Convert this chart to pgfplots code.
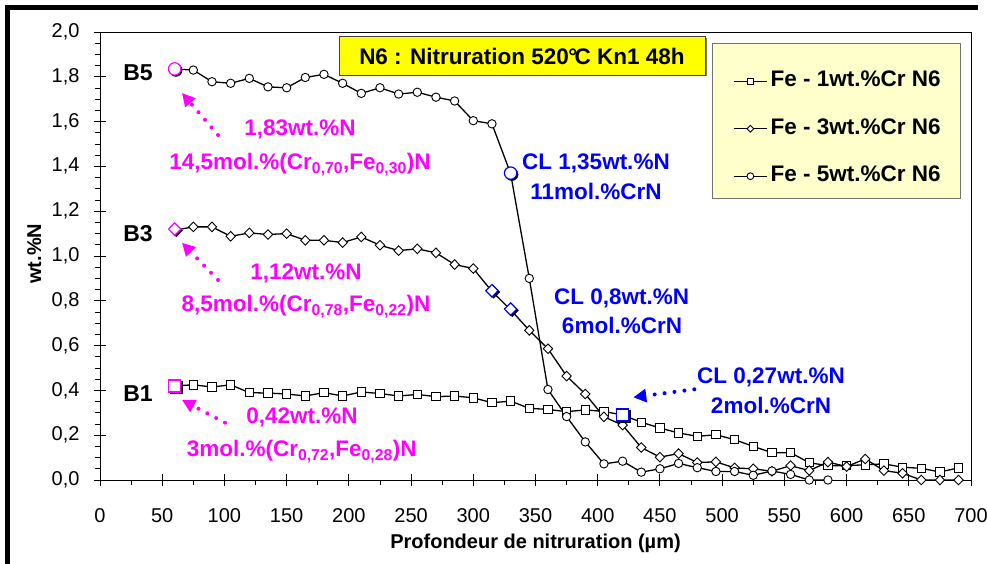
\documentclass[border=0pt]{standalone}
\usepackage{fontspec}
\setmainfont{Liberation Sans}
\usepackage{pgfplots}
\pgfplotsset{compat=1.18}
\usetikzlibrary{arrows.meta}
\definecolor{mag}{RGB}{255,0,255}
\definecolor{blu}{RGB}{0,0,255}
\definecolor{legfill}{RGB}{255,255,204}
\definecolor{ttlfill}{RGB}{255,255,0}
\newcommand{\bigb}{\fontsize{22.5}{27}\selectfont\bfseries}
\begin{document}
\begin{tikzpicture}[x=1pt,y=1pt]
\useasboundingbox (0,0) rectangle (987,564);
\fill[white] (0,0) rectangle (987,564);
\draw[line width=5pt, line join=miter] (7.5,0) -- (7.5,556.5) -- (978,556.5);
% boxes
\fill[black!55] (340.5,487.5) rectangle (707,525.8);
\draw[fill=ttlfill, draw=black!75, line width=0.8pt] (339,489) rectangle (705.5,527.3);
\node[anchor=base] at (522,499) {\bigb N6 : Nitruration 520\kern-0.02em°\kern-0.12em C Kn1 48h};
\draw[fill=legfill, draw=black!55, line width=1pt] (712.7,520) rectangle (960,365.7);
\begin{axis}[
  at={(100pt,84pt)}, anchor=south west,
  scale only axis, width=871pt, height=448pt,
  xmin=0, xmax=700, ymin=0, ymax=2,
  xtick={0,50,...,700},
  ytick={0,0.2,0.4,0.6,0.8,1,1.2,1.4,1.6,1.8,2},
  minor x tick num=1, minor y tick num=3,
  tick pos=left,
  tick align=outside, major tick length=6pt, minor tick length=5pt,
  extra x ticks={0,50,...,700}, extra x tick labels={},
  extra y ticks={0,0.2,0.4,0.6,0.8,1,1.2,1.4,1.6,1.8,2}, extra y tick labels={},
  extra tick style={tick align=inside, major tick length=6pt},
  tick style={black, line width=0.9pt},
  axis line style={line width=0.9pt},
  /pgf/number format/assume math mode=true,
  ticklabel style={font=\fontsize{20}{24}\selectfont},
  yticklabel style={/pgf/number format/.cd, fixed, fixed zerofill, precision=1, use comma, /tikz/.cd, xshift=-11pt},
  xticklabel style={yshift=-19pt},
  xlabel={Profondeur de nitruration (µm)},
  xlabel style={font=\fontsize{20}{24}\selectfont\bfseries, at={(axis description cs:0.5,-0.153)}, anchor=base},
  ylabel={wt.\%N},
  ylabel style={font=\fontsize{20}{24}\selectfont\bfseries, at={(axis description cs:-0.0677,0.505)}, anchor=base, rotate=0},
  legend style={at={(0.7268,0.9136)}, anchor=north west, draw=none, fill=none, inner sep=0pt,
    font=\bigb, row sep=26.4pt, nodes={inner sep=0pt, text height=16pt, text depth=5pt},
    /tikz/column sep=3pt},
  legend cell align=left,
  legend image code/.code={\draw[mark repeat=2,mark phase=2,#1] plot coordinates {(0pt,0pt)(16.5pt,0pt)(33pt,0pt)};},
  legend image post style={mark size=3.4pt},
]
% Fe-1wt.%Cr (B1)
\addplot[black, line width=1.3pt, mark=square*, mark size=4.2pt, mark options={solid, fill=white, draw=black, line width=0.9pt}] coordinates {
(60,0.42)(75,0.425)(90,0.415)(105,0.425)(120,0.39)(135,0.388)(150,0.384)(165,0.375)(180,0.39)(195,0.375)
(210,0.393)(225,0.386)(240,0.375)(255,0.382)(270,0.372)(285,0.375)(300,0.367)(315,0.345)(330,0.352)(345,0.32)
(360,0.315)(375,0.305)(390,0.313)(405,0.306)(420,0.29)(435,0.258)(450,0.232)(465,0.21)(480,0.195)(495,0.202)
(510,0.18)(525,0.15)(540,0.122)(555,0.122)(570,0.077)(585,0.064)(600,0.064)(615,0.068)(630,0.072)(645,0.057)
(660,0.052)(675,0.036)(690,0.054)};
\addlegendentry{Fe - 1wt.\%Cr N6}
% Fe-3wt.%Cr (B3)
\addplot[black, line width=1.3pt, mark=diamond*, mark size=4.8pt, mark options={solid, fill=white, draw=black, line width=0.9pt, xscale=1.3}] coordinates {
(60,1.115)(75,1.13)(90,1.13)(105,1.088)(120,1.103)(135,1.096)(150,1.1)(165,1.07)(180,1.07)(195,1.06)
(210,1.085)(225,1.048)(240,1.024)(255,1.032)(270,1.014)(285,0.962)(300,0.944)(315,0.842)(330,0.76)(345,0.668)
(360,0.586)(375,0.464)(390,0.384)(405,0.282)(420,0.245)(435,0.145)(450,0.102)(465,0.118)(480,0.078)(495,0.081)
(510,0.054)(525,0.05)(540,0.039)(555,0.064)(570,0.042)(585,0.08)(600,0.06)(615,0.094)(630,0.042)(645,0.03)
(660,0.0)(675,0.0)(690,0.0)};
\addlegendentry{Fe - 3wt.\%Cr N6}
% Fe-5wt.%Cr (B5)
\addplot[black, line width=1.3pt, mark=*, mark size=4.2pt, mark options={solid, fill=white, draw=black, line width=0.9pt}] coordinates {
(60,1.835)(75,1.83)(90,1.778)(105,1.771)(120,1.793)(135,1.755)(150,1.751)(165,1.797)(180,1.811)(195,1.771)
(210,1.726)(225,1.751)(240,1.723)(255,1.731)(270,1.709)(285,1.692)(300,1.604)(315,1.59)(330,1.368)(345,0.9)
(360,0.404)(375,0.283)(390,0.17)(405,0.072)(420,0.084)(435,0.035)(450,0.05)(465,0.074)(480,0.055)(495,0.038)
(510,0.038)(525,0.021)(540,0.04)(555,0.025)(570,0.0)(585,0.0)};
\addlegendentry{Fe - 5wt.\%Cr N6}
% shadows of highlighted points
\addplot[forget plot, only marks, mark=square*, mark size=6pt, mark options={fill=black, draw=black, xshift=1.3pt, yshift=-1.3pt}] coordinates {(60,0.42)(420,0.29)};
\addplot[forget plot, only marks, mark=diamond*, mark size=6.3pt, mark options={fill=black, draw=black, xscale=1.3, xshift=1.3pt, yshift=-1.3pt}] coordinates {(60,1.12)(315,0.845)(330,0.763)};
\addplot[forget plot, only marks, mark=*, mark size=6.2pt, mark options={fill=black, draw=black, xshift=1.3pt, yshift=-1.3pt}] coordinates {(60,1.835)(330,1.37)};
% highlighted points
\addplot[forget plot, only marks, mark=square*, mark size=6pt, mark options={fill=white, draw=mag, line width=1.2pt}] coordinates {(60,0.42)};
\addplot[forget plot, only marks, mark=diamond*, mark size=6.3pt, mark options={fill=white, draw=mag, line width=1.2pt, xscale=1.3}] coordinates {(60,1.12)};
\addplot[forget plot, only marks, mark=*, mark size=6.2pt, mark options={fill=white, draw=mag, line width=1.2pt}] coordinates {(60,1.835)};
\addplot[forget plot, only marks, mark=square*, mark size=6pt, mark options={fill=white, draw=blu, line width=1.2pt}] coordinates {(420,0.29)};
\addplot[forget plot, only marks, mark=diamond*, mark size=6.3pt, mark options={fill=white, draw=blu, line width=1.2pt, xscale=1.3}] coordinates {(315,0.845)(330,0.763)};
\addplot[forget plot, only marks, mark=*, mark size=6.2pt, mark options={fill=white, draw=blu, line width=1.2pt}] coordinates {(330,1.37)};
\end{axis}
% labels B5 B3 B1
\node[anchor=base] at (138,483.3) {\fontsize{23}{27}\selectfont\bfseries B5};
\node[anchor=base] at (138,322.3) {\fontsize{23}{27}\selectfont\bfseries B3};
\node[anchor=base] at (138,162.3) {\fontsize{23}{27}\selectfont\bfseries B1};
% magenta annotations
\begin{scope}[mag]
\node[anchor=base] at (300,428) {\bigb 1,83wt.\%N};
\node[anchor=base] at (300,394) {\bigb 14,5mol.\%(Cr\textsubscript{0,70},Fe\textsubscript{0,30})N};
\node[anchor=base] at (306,284) {\bigb 1,12wt.\%N};
\node[anchor=base] at (306,252.3) {\bigb 8,5mol.\%(Cr\textsubscript{0,78},Fe\textsubscript{0,22})N};
\node[anchor=base] at (302,140) {\bigb 0,42wt.\%N};
\node[anchor=base] at (301.7,107.3) {\bigb 3mol.\%(Cr\textsubscript{0,72},Fe\textsubscript{0,28})N};
\draw[line width=4pt, line cap=round, dash pattern=on 0pt off 10pt, -{Triangle[length=13pt,width=13pt]}] (218,429) -- (182,471);
\draw[line width=4pt, line cap=round, dash pattern=on 0pt off 10pt, -{Triangle[length=13pt,width=13pt]}] (218,284) -- (182,321.3);
\draw[line width=4pt, line cap=round, dash pattern=on 0pt off 10pt, -{Triangle[length=13pt,width=13pt]}] (225,141.3) -- (182,164);
\end{scope}
% blue annotations
\begin{scope}[blu]
\node[anchor=base] at (596,394) {\bigb CL 1,35wt.\%N};
\node[anchor=base] at (596,364) {\bigb 11mol.\%CrN};
\node[anchor=base] at (621.7,259) {\bigb CL 0,8wt.\%N};
\node[anchor=base] at (622,230.7) {\bigb 6mol.\%CrN};
\node[anchor=base] at (771,180) {\bigb CL 0,27wt.\%N};
\node[anchor=base] at (771,150) {\bigb 2mol.\%CrN};
\draw[line width=4pt, line cap=round, dash pattern=on 0pt off 10pt, -{Triangle[length=13pt,width=13pt]}] (694.3,174.7) -- (633.3,166.7);
\end{scope}
\end{tikzpicture}
\end{document}
